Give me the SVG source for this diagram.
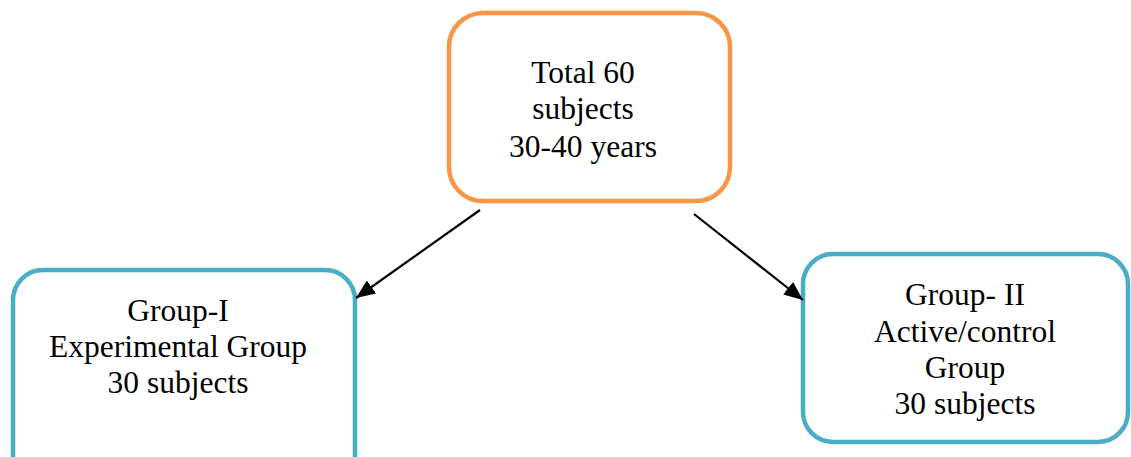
<svg xmlns="http://www.w3.org/2000/svg" width="1131" height="457" viewBox="0 0 1131 457">
<style>
.box{fill:#fff;stroke-width:4.5}
.orange{stroke:#F79646}
.blue{stroke:#4BACC6}
text{font-family:"Liberation Serif","Times New Roman",serif;font-size:31.5px;fill:#000;text-anchor:middle}
.conn{stroke:#000;stroke-width:2.2;fill:none;marker-end:url(#arr)}
</style>
<defs>
<marker id="arr" markerUnits="userSpaceOnUse" markerWidth="20" markerHeight="16" viewBox="0 0 20 16" refX="19" refY="8" orient="auto">
<path d="M0,0 L19,8 L0,16 Z" fill="#000"/>
</marker>
</defs>
<rect width="1131" height="457" fill="#fff"/>
<g id="total">
<rect class="box orange" x="449" y="13" width="281" height="188" rx="34"/>
<text x="583" y="83">Total 60</text>
<text x="583" y="119">subjects</text>
<text x="583" y="157">30-40 years</text>
</g>
<g id="group1">
<rect class="box blue" x="13" y="270" width="342" height="220" rx="30"/>
<text x="178" y="321">Group-I</text>
<text x="178" y="357">Experimental Group</text>
<text x="178" y="393">30 subjects</text>
</g>
<g id="group2">
<rect class="box blue" x="803" y="254" width="325" height="188" rx="30"/>
<text x="965" y="305">Group- II</text>
<text x="965" y="342">Active/control</text>
<text x="965" y="378">Group</text>
<text x="965" y="414">30 subjects</text>
</g>
<g id="connectors">
<line class="conn" x1="480" y1="210" x2="356" y2="298"/>
<line class="conn" x1="694" y1="214" x2="803" y2="300"/>
</g>
</svg>
